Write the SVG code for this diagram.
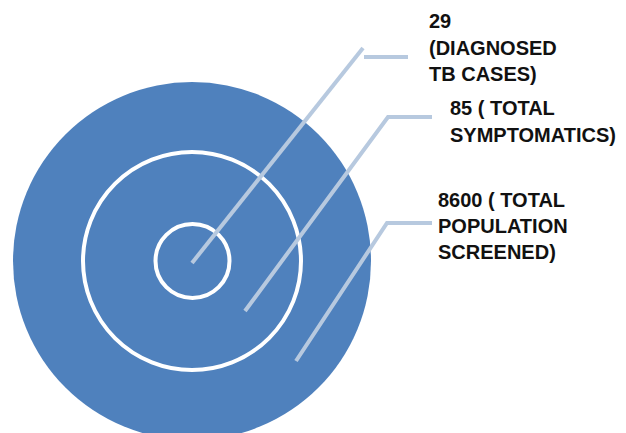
<svg xmlns="http://www.w3.org/2000/svg" width="626" height="433" viewBox="0 0 626 433">
  <style>
    .ring { fill: none; stroke: #ffffff; stroke-width: 4; }
    .leader { fill: none; stroke: #b7c9df; stroke-width: 4; stroke-linecap: butt; }
    .label { font-family: "Liberation Sans", Arial, sans-serif; font-weight: bold; font-size: 20px; fill: #111111; }
  </style>
  <rect width="626" height="433" fill="#ffffff"/>
  <g id="population">
    <circle cx="192" cy="261" r="179" fill="#4f81bd"/>
  </g>
  <g id="symptomatics">
    <circle class="ring" cx="192" cy="261" r="109"/>
  </g>
  <g id="diagnosed">
    <circle class="ring" cx="192.5" cy="261" r="37"/>
  </g>
  <g id="connectors">
    <line class="leader" x1="192" y1="263" x2="363" y2="48"/>
    <line class="leader" x1="364" y1="57" x2="408" y2="57"/>
    <polyline class="leader" points="245,311 388,117 432,117"/>
    <polyline class="leader" points="296,361 387,223 432,223"/>
  </g>
  <g id="label-diagnosed">
    <text class="label" x="429" y="28">29</text>
    <text class="label" x="429" y="55">(DIAGNOSED</text>
    <text class="label" x="429" y="81">TB CASES)</text>
  </g>
  <g id="label-symptomatics">
    <text class="label" x="450" y="115">85 ( TOTAL</text>
    <text class="label" x="450" y="142">SYMPTOMATICS)</text>
  </g>
  <g id="label-population">
    <text class="label" x="438" y="207">8600 ( TOTAL</text>
    <text class="label" x="438" y="233">POPULATION</text>
    <text class="label" x="438" y="259">SCREENED)</text>
  </g>
</svg>
